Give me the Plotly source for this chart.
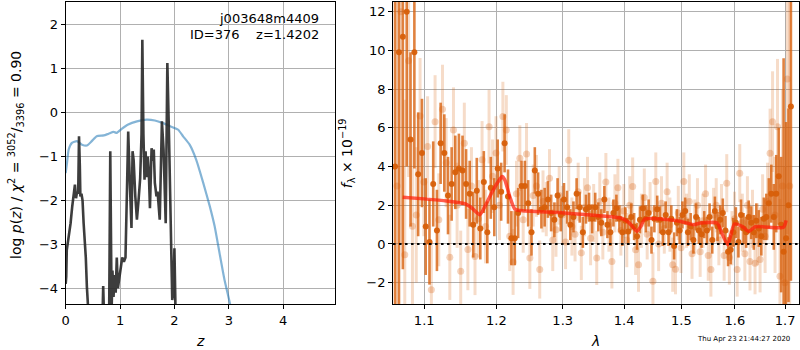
import numpy as np
import plotly.graph_objects as go

# ---------------- left panel: p(z) ----------------
Z_PZ = [0.00, 0.01, 0.02, 0.05, 0.09, 0.12, 0.15, 0.17, 0.19, 0.21,
        0.23, 0.245, 0.26, 0.27, 0.29, 0.31, 0.33, 0.35, 0.37, 0.39,
        0.42, 0.50, 0.65, 0.68, 0.69, 0.70, 0.75, 0.80, 0.82, 0.845,
        0.86, 0.88, 0.90, 0.92, 0.94, 0.96, 0.98, 1.01, 1.04, 1.07,
        1.10, 1.13, 1.15, 1.18, 1.21, 1.23, 1.25, 1.28, 1.31, 1.34,
        1.37, 1.395, 1.41, 1.43, 1.45, 1.47, 1.49, 1.51, 1.53, 1.55,
        1.58, 1.60, 1.62, 1.64, 1.67, 1.69, 1.73, 1.77, 1.80, 1.84,
        1.87, 1.90, 1.93, 1.96, 1.98, 2.00, 2.02, 2.05]
LOGP = [-3.9, -3.74, -3.13, -2.9, -2.52, -2.14, -1.76, -1.64, -1.95, -1.8,
        -1.85, -0.54, -1.2, -1.91, -1.85, -2.0, -2.52, -2.82, -3.3, -3.97,
        -4.6, -5.5, -5.0, -4.5, -3.95, -4.4, -5.0, -4.5, -0.88, -4.5,
        -3.6, -4.2, -3.7, -4.1, -3.3, -4.0, -3.85, -3.6, -3.3, -3.4,
        -3.3, -1.6, -0.43, -1.6, -2.63, -0.88, -1.08, -1.9, -2.44, -2.0,
        -1.5, -0.5, 1.66, -0.5, -1.53, -0.88, -1.47, -1.0, -1.4, -2.18,
        -0.81, -1.1, -0.84, -1.6, -1.91, -1.8, -2.44, -0.2, -0.84, -2.52,
        1.13, -0.5, -2.2, -4.27, -4.1, -3.09, -4.5, -5.5]

Z_CHI = [0.0, 0.024, 0.055, 0.115, 0.207, 0.30, 0.39, 0.48, 0.57, 0.70,
         0.79, 0.88, 0.94, 1.03, 1.15, 1.31, 1.49, 1.64, 1.79, 1.92,
         2.07, 2.16, 2.28, 2.40, 2.53, 2.65, 2.74, 2.83, 2.92, 3.02, 3.12]
CHI = [-1.38, -1.15, -0.84, -0.69, -0.65, -0.73, -0.75, -0.65, -0.54, -0.52,
       -0.48, -0.44, -0.46, -0.37, -0.27, -0.20, -0.16, -0.18, -0.24, -0.31,
       -0.39, -0.54, -0.73, -1.07, -1.6, -2.13, -2.59, -3.2, -3.8, -4.34, -5.0]

# ---------------- right panel: spectrum ----------------
WAVE_A_START, WAVE_STEP = 1.062, 0.005
FLUX_A = [4.0, 9.9, 10.7, 12.0, 5.4, 9.9, 3.6, 4.7, 0.9, 0.1,
          3.1, 0.7, 5.2, 4.7, 2.5, 3.1, 3.7, 3.9, 3.8, 3.1,
          2.6, 1.0, 2.75, 0.8, 3.2, 0.6, 2.9, 1.9, 3.9, 2.7,
          5.2, 2.45, 0.3, 0.3, 1.6, 3.0, 3.0, 2.1, 0.6, 3.8,
          2.6, 1.8, 1.9, 2.3, 1.6, 1.25, 2.5, 1.5, 2.3, 1.9,
          1.0, 1.4, 2.6, 1.9, 0.6, 1.8, 1.9, 1.3, 1.9, 1.4,
          1.1, 2.3, 1.0, 0.6, 1.6, 1.85, 1.3, 0.6, 1.2, 0.65,
          1.4, 0.9, 0.4, 1.25, 1.85, 1.3, 1.6, 0.2, 1.3, 1.8,
          1.25, 0.6, 1.5, 0.6, 1.3, -0.1, 1.1, 0.7, 1.5, 1.7,
          0.6, 0.9, 0.2, 1.4, 0.7, 0.5, 1.0, 0.7, 1.4, 0.2,
          1.7, 0.9, 1.25, 1.6, 0.7, -0.4, -0.3, 0.6, 1.1, 0.1,
          1.5, 0.8, 0.6, 1.4, 1.1, 0.6, 1.2, 0.8, 0.4, 1.3,
          1.4, 2.1, 2.6, 1.4, 2.6, 3.5, 1.0, -0.4, 0.3, 2.0,
          7.1]
ERR_A = [20, 15, 12, 8, 4.5, 6.0, 3.2, 2.8, 2.5, 2.2,
         2.2, 2.1, 2.1, 2.0, 2.0, 1.9, 1.9, 1.8, 1.8, 1.8,
         1.7, 1.7, 1.7, 1.6, 1.6, 1.6, 1.6, 1.5, 1.5, 1.5,
         1.5, 1.4, 1.4, 1.4, 1.3, 1.3, 1.3, 1.2, 1.2, 1.2,
         1.1, 1.0, 1.0, 0.95, 0.95, 0.9, 0.9, 0.85, 0.85, 0.85,
         0.8, 0.8, 0.8, 0.8, 0.8, 0.75, 0.75, 0.75, 0.75, 0.75,
         0.7, 0.7, 0.7, 0.7, 0.7, 0.7, 0.7, 0.7, 0.7, 0.7,
         0.7, 0.7, 0.7, 0.7, 0.7, 0.7, 0.7, 0.7, 0.7, 0.7,
         0.7, 0.7, 0.7, 0.7, 0.7, 0.7, 0.7, 0.7, 0.7, 0.7,
         0.7, 0.7, 0.7, 0.7, 0.7, 0.7, 0.7, 0.7, 0.7, 0.7,
         0.75, 0.75, 0.75, 0.75, 0.75, 0.75, 0.75, 0.75, 0.8, 0.8,
         0.8, 0.8, 0.8, 0.85, 0.85, 0.9, 0.9, 0.95, 1.0, 1.1,
         1.2, 1.3, 1.5, 1.7, 2.0, 2.5, 3.5, 10, 6, 5,
         9]

WAVE_B_START = 1.0645
FLUX_B = [3.0, 12.0, -0.55, 9.46, 0.91, 1.5, 6.61, 3.2, 5.03, -2.36,
          6.32, 1.25, 6.96, 4.2, -0.69, 5.89, 2.0, -1.41, 5.2, -0.29,
          3.0, -0.64, 1.3, 4.35, 0.9, 6.06, 3.5, 4.7, 2.0, 6.58,
          5.89, 0.4, -0.93, 2.6, 4.43, 1.25, 4.65, -0.72, 2.5, 3.0,
          -1.32, 2.2, 1.8, 3.4, 0.2, 0.74, 2.5, 1.5, 0.1, 4.33,
          0.9, 0.5, 2.7, -0.46, 1.9, 2.9, 0.3, 1.6, -0.72, 2.2,
          0.6, 3.2, 1.0, -0.9, 2.1, 2.9, 0.7, 1.7, 0.2, 2.0,
          2.97, -0.3, -1.07, 1.2, 2.4, 0.5, 1.8, -1.93, 3.23, 0.0,
          2.1, 0.8, 2.7, 1.0, -1.07, -1.3, 1.6, -0.2, 3.23, 1.2,
          2.2, -0.5, 0.9, 2.0, -0.4, 1.2, 2.6, -0.6, -1.32, 1.5,
          2.0, 0.2, 1.7, -0.6, 3.14, -0.7, 0.3, 1.3, -1.32, 3.66,
          1.1, -0.5, 2.0, -0.9, 1.3, -1.0, 0.5, -0.8, 1.8, 0.4,
          2.2, 4.69, 6.32, 1.5, 6.06, -1.67, 3.0, -2.0, 8.52, 3.0]
ERR_B = [15, 12, 8, 6, 4.5, 3.5, 3.0, 2.8, 2.6, 2.5,
         2.4, 2.4, 2.3, 2.3, 2.2, 2.2, 2.2, 2.1, 2.1, 2.1,
         2.0, 2.0, 2.0, 2.0, 1.9, 1.9, 1.9, 1.9, 1.8, 1.8,
         1.8, 1.8, 1.7, 1.7, 1.7, 1.7, 1.6, 1.6, 1.6, 1.6,
         1.5, 1.6, 1.4, 1.5, 1.6, 1.4, 1.5, 1.5, 1.4, 1.6,
         1.5, 1.4, 1.5, 1.4, 1.5, 1.6, 1.4, 1.5, 1.4, 1.5,
         1.4, 1.5, 1.4, 1.4, 1.5, 1.5, 1.3, 1.4, 1.4, 1.5,
         1.5, 1.3, 1.4, 1.4, 1.5, 1.3, 1.4, 1.5, 1.5, 1.4,
         1.4, 1.3, 1.5, 1.4, 1.4, 1.3, 1.4, 1.3, 1.5, 1.4,
         1.4, 1.3, 1.4, 1.4, 1.3, 1.4, 1.5, 1.3, 1.4, 1.4,
         1.4, 1.3, 1.4, 1.3, 1.5, 1.4, 1.4, 1.4, 1.4, 1.5,
         1.5, 1.4, 1.5, 1.5, 1.5, 1.6, 1.6, 1.7, 1.8, 1.9,
         2.0, 2.3, 2.6, 3.0, 3.5, 4.0, 5.0, 6.0, 8.0, 10.0]

MODEL_WAVE = [1.0718, 1.10, 1.13, 1.155, 1.165, 1.1765, 1.1836, 1.1931, 1.2027, 1.2085,
              1.2123, 1.2196, 1.227, 1.2344, 1.3029, 1.3946, 1.4058, 1.4142, 1.4217, 1.4285,
              1.4354, 1.4926, 1.5228, 1.5352, 1.5662, 1.5724, 1.5864, 1.5991, 1.614, 1.6269,
              1.64, 1.6967, 1.7021]
MODEL_FLUX = [2.42, 2.33, 2.22, 2.08, 1.86, 1.51, 1.94, 2.63, 3.23, 3.48,
              3.31, 2.45, 1.8, 1.73, 1.6, 1.34, 1.16, 0.91, 0.65, 0.91,
              1.29, 1.2, 1.0, 1.08, 1.08, 0.74, -0.04, 1.03, 0.91, 0.65,
              0.89, 0.86, 1.22]

X_TICKS_Z = [0, 1, 2, 3, 4]
Y_TICKS_P = [-4, -3, -2, -1, 0, 1, 2]
X_TICKS_L = [1.1, 1.2, 1.3, 1.4, 1.5, 1.6, 1.7]
Y_TICKS_F = [-2, 0, 2, 4, 6, 8, 10, 12]

wave_a = WAVE_A_START + WAVE_STEP * np.arange(len(FLUX_A))
wave_b = WAVE_B_START + WAVE_STEP * np.arange(len(FLUX_B))

ORANGE = "215,95,10"
FONT = "DejaVu Sans"

fig = go.Figure()

fig.add_trace(go.Scatter(x=Z_CHI, y=CHI, mode="lines", xaxis="x", yaxis="y",
                         line=dict(color="rgba(31,119,180,0.55)", width=2.2, shape="spline",
                                   smoothing=0.5),
                         showlegend=False))
fig.add_trace(go.Scatter(x=Z_PZ, y=LOGP, mode="lines", xaxis="x", yaxis="y",
                         line=dict(color="rgba(40,40,40,0.9)", width=2.6),
                         showlegend=False))

fig.add_trace(go.Scatter(x=wave_b, y=FLUX_B, mode="markers", xaxis="x2", yaxis="y2",
                         marker=dict(color=f"rgba({ORANGE},0.28)", size=7),
                         error_y=dict(type="data", array=ERR_B, visible=True, thickness=3,
                                      width=0, color=f"rgba({ORANGE},0.22)"),
                         showlegend=False))
fig.add_trace(go.Scatter(x=wave_a, y=FLUX_A, mode="markers", xaxis="x2", yaxis="y2",
                         marker=dict(color=f"rgba({ORANGE},0.95)", size=6),
                         error_y=dict(type="data", array=ERR_A, visible=True, thickness=2.6,
                                      width=0, color=f"rgba({ORANGE},0.78)"),
                         showlegend=False))
fig.add_trace(go.Scatter(x=MODEL_WAVE, y=MODEL_FLUX, mode="lines", xaxis="x2", yaxis="y2",
                         line=dict(color="rgba(255,30,10,0.72)", width=3.5, shape="spline",
                                   smoothing=0.6),
                         showlegend=False))

axis_common = dict(showgrid=True, gridcolor="#b0b0b0", gridwidth=1, zeroline=False,
                   showline=True, linecolor="black", linewidth=1, mirror=True,
                   ticks="outside", ticklen=4, tickcolor="black",
                   tickfont=dict(family=FONT, size=13, color="black"))

fig.update_layout(
    width=800, height=350,
    margin=dict(l=0, r=0, t=0, b=0),
    paper_bgcolor="white", plot_bgcolor="white",
    font=dict(family=FONT, size=13, color="black"),
    xaxis=dict(domain=[62 / 800, 333 / 800], range=[0, 4.96], tickvals=X_TICKS_Z,
               anchor="y", **axis_common),
    yaxis=dict(domain=[1 - 304 / 350, 1 - 2 / 350], range=[-4.36, 2.52], tickvals=Y_TICKS_P,
               anchor="x", **axis_common),
    xaxis2=dict(domain=[391 / 800, 799 / 800], type="log",
                range=[np.log10(1.0594), np.log10(1.7288)],
                tickvals=X_TICKS_L, ticktext=[f"{v:.1f}" for v in X_TICKS_L],
                anchor="y2", **axis_common),
    yaxis2=dict(domain=[1 - 304 / 350, 1 - 2 / 350], range=[-3.1, 12.5], tickvals=Y_TICKS_F,
                anchor="x2", **axis_common),
    shapes=[dict(type="line", xref="x2 domain", yref="y2", x0=0, x1=1, y0=0, y1=0,
                 line=dict(color="black", width=2.2, dash="2.5px,3.5px"), layer="above")],
)

ann = [
    dict(text="<i>z</i>", x=197 / 800, y=1 - 341 / 350, size=14),
    dict(text="<i>λ</i>", x=594 / 800, y=1 - 341 / 350, size=14),
    dict(text="log <i>p</i>(<i>z</i>) / <i>χ</i><sup>2</sup> = <sup>3052</sup>/<sub>3396</sub> = 0.90",
         x=12 / 800, y=1 - 155 / 350, size=14, angle=-90),
    dict(text="<i>f</i><sub>λ</sub> × 10<sup>−19</sup>", x=345 / 800, y=1 - 153 / 350,
         size=14, angle=-90),
    dict(text="Thu Apr 23 21:44:27 2020", x=743 / 800, y=1 - 339 / 350, size=7),
]
for a in ann:
    fig.add_annotation(text=a["text"], x=a["x"], y=a["y"], xref="paper", yref="paper",
                       showarrow=False, xanchor="center", yanchor="middle",
                       textangle=a.get("angle", 0),
                       font=dict(family=FONT, size=a["size"], color="black"))

fig.add_annotation(text="j003648m4409", x=319 / 800, y=1 - 19 / 350, xref="paper",
                   yref="paper", showarrow=False, xanchor="right", yanchor="middle",
                   font=dict(family=FONT, size=13, color="black"))
fig.add_annotation(text="ID=376\u00a0\u00a0\u00a0\u00a0z=1.4202", x=319 / 800, y=1 - 34 / 350,
                   xref="paper", yref="paper", showarrow=False, xanchor="right",
                   yanchor="middle", font=dict(family=FONT, size=13, color="black"))

fig.write_html("out.html", config={"displayModeBar": False},
               post_script="document.body.style.margin='0';document.body.style.overflow='hidden';")
